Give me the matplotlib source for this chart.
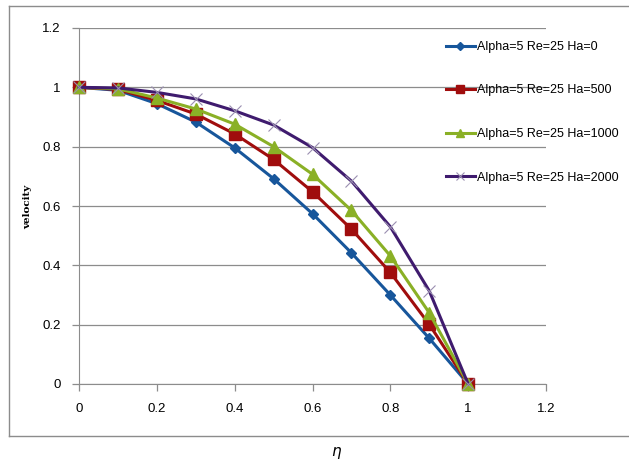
import matplotlib.pyplot as plt
from matplotlib.lines import Line2D

# eta positions and velocity profiles
eta = [0, 0.1, 0.2, 0.3, 0.4, 0.5, 0.6, 0.7, 0.8, 0.9, 1.0]
v_ha0 = [1.0, 0.99, 0.945, 0.883, 0.796, 0.692, 0.574, 0.442, 0.300, 0.154, 0.0]
v_ha500 = [1.0, 0.993, 0.956, 0.910, 0.843, 0.757, 0.648, 0.522, 0.376, 0.201, 0.0]
v_ha1000 = [1.0, 0.995, 0.964, 0.927, 0.876, 0.800, 0.707, 0.585, 0.432, 0.240, 0.0]
v_ha2000 = [1.0, 0.998, 0.983, 0.961, 0.921, 0.873, 0.797, 0.684, 0.530, 0.314, 0.0]
labels = ['Alpha=5 Re=25 Ha=0', 'Alpha=5 Re=25 Ha=500',
          'Alpha=5 Re=25 Ha=1000', 'Alpha=5 Re=25 Ha=2000']

xticks = [0, 0.2, 0.4, 0.6, 0.8, 1, 1.2]
yticks = [0, 0.2, 0.4, 0.6, 0.8, 1, 1.2]
xtick_labels = ['0', '0.2', '0.4', '0.6', '0.8', '1', '1.2']
ytick_labels = ['0', '0.2', '0.4', '0.6', '0.8', '1', '1.2']

plt.rcParams['font.family'] = ['Liberation Sans', 'DejaVu Sans']

fig = plt.figure(figsize=(6.29, 4.62), dpi=100)
ax = fig.add_axes([79 / 629, 1 - 384 / 462, (546 - 79) / 629, (384 - 28) / 462])

blue = '#17569b'
red = '#a00d0d'
green = '#8ab026'
purple = '#3f1b6e'

ax.plot(eta, v_ha0, color=blue, lw=2.2, marker='D', ms=5.5, label=labels[0], clip_on=False, zorder=3)
ax.plot(eta, v_ha500, color=red, lw=2.2, marker='s', ms=8, label=labels[1], clip_on=False, zorder=4)
ax.plot(eta, v_ha1000, color=green, lw=2.2, marker='^', ms=8.5, label=labels[2], clip_on=False, zorder=5)
ax.plot(eta, v_ha2000, color=purple, lw=2.2, marker='x', ms=8, mew=0.8,
        mec='#9a8fb0', label=labels[3], clip_on=False, zorder=6)

ax.set_xlim(0, 1.2)
ax.set_ylim(0, 1.2)
ax.set_xticks(xticks)
ax.set_xticklabels(xtick_labels)
ax.set_yticks(yticks)
ax.set_yticklabels(ytick_labels)
ax.grid(axis='y', color='#8c8c8c', lw=0.9)
ax.set_axisbelow(True)
for s in ['top', 'right']:
    ax.spines[s].set_visible(False)
for s in ['left', 'bottom']:
    ax.spines[s].set_color('#8c8c8c')
ax.tick_params(colors='#8c8c8c', labelcolor='black', labelsize=9.5, length=5, width=0.9)
ax.tick_params(axis='x', pad=9)
ax.tick_params(axis='y', pad=8)

fig.text(28 / 629, 1 - 207 / 462, 'velocity', rotation=90, ha='center', va='center',
         fontsize=7.5, fontweight='bold', family='DejaVu Serif')
fig.text(337 / 629, 1 - 453 / 462, r'$\eta$', ha='center', va='center', fontsize=11)

leg = fig.legend(loc='upper left', bbox_to_anchor=(446 / 629, 1 - 41 / 462), frameon=False,
                 fontsize=9, labelspacing=2.52, handlelength=2.3, handletextpad=0.15,
                 borderaxespad=0, borderpad=0, markerscale=0.75)

# outer chart border (left, top, bottom)
border = '#8c8c8c'
fig.add_artist(Line2D([9 / 629, 9 / 629], [1 - 436 / 462, 1 - 6 / 462], transform=fig.transFigure, color=border, lw=1))
fig.add_artist(Line2D([9 / 629, 1], [1 - 6 / 462, 1 - 6 / 462], transform=fig.transFigure, color=border, lw=1))
fig.add_artist(Line2D([9 / 629, 1], [1 - 436 / 462, 1 - 436 / 462], transform=fig.transFigure, color=border, lw=1))

fig.savefig('out.png', dpi=100)
